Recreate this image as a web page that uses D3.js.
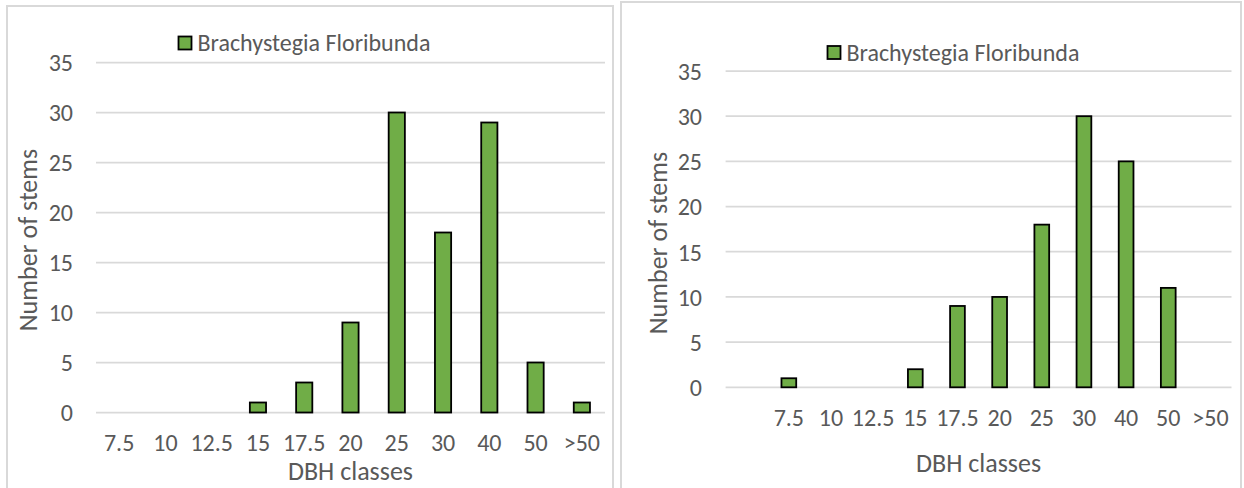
<!DOCTYPE html>
<html>
<head>
<meta charset="utf-8">
<script src="https://cdn.jsdelivr.net/npm/d3@7"></script>
<style>
  html, body { margin: 0; padding: 0; background: #fff; }
  svg { display: block; }
  text { font-family: Carlito, Lato, "Open Sans", sans-serif; fill: #595959; }
</style>
</head>
<body>
<svg id="chart" width="1244" height="488"></svg>
<script>
// DBH class labels for each panel (the second panel starts with an empty slot)
const classesA = ["7.5", "10", "12.5", "15", "17.5", "20", "25", "30", "40", "50", ">50"];
const stemsA   = [0, 0, 0, 1, 3, 9, 30, 18, 29, 5, 1];

const classesB = ["", "7.5", "10", "12.5", "15", "17.5", "20", "25", "30", "40", "50", ">50"];
const stemsB   = [0, 1, 0, 0, 2, 9, 10, 18, 30, 25, 11, 0];

const yTicks = [0, 5, 10, 15, 20, 25, 30, 35];
const seriesName = "Brachystegia Floribunda";
const xTitle = "DBH classes";
const yTitle = "Number of stems";

const svg = d3.select("#chart");
const barFill = "#70AD47";
const gridColor = "#d9d9d9";

function drawPanel(p, classes, stems) {
  const g = svg.append("g");

  // panel frame
  g.append("rect")
    .attr("x", p.frame[0]).attr("y", p.frame[1])
    .attr("width", p.frame[2] - p.frame[0]).attr("height", p.frame[3] - p.frame[1])
    .attr("fill", "#fff").attr("stroke", gridColor).attr("stroke-width", 2);

  const x = d3.scaleBand().domain(classes.map((c, i) => i))
    .range([p.left, p.right]).paddingInner(0).paddingOuter(0);
  const y = d3.scaleLinear().domain([0, 35]).range([p.bottom, p.top]);

  // horizontal gridlines
  g.append("g").selectAll("line").data(yTicks).join("line")
    .attr("x1", p.left).attr("x2", p.right)
    .attr("y1", d => y(d)).attr("y2", d => y(d))
    .attr("stroke", gridColor).attr("stroke-width", 1.75);

  // y axis labels
  const yAxis = d3.axisLeft(y).tickValues(yTicks).tickSize(0).tickPadding(0);
  const ya = g.append("g").attr("transform", `translate(${p.yLabelX},0)`).call(yAxis);
  ya.select(".domain").remove();
  ya.attr("font-size", null).attr("font-family", null);
  ya.selectAll("text").style("font-size", "24px").style("fill", "#595959")
    .attr("dy", "0.35em");

  // x axis labels
  const xAxis = d3.axisBottom(x).tickFormat(i => classes[i]).tickSize(0).tickPadding(0);
  const xa = g.append("g").attr("transform", `translate(0,${p.xLabelY})`).call(xAxis);
  xa.select(".domain").remove();
  xa.attr("font-size", null).attr("font-family", null);
  xa.selectAll("text").style("font-size", "24px").style("fill", "#595959")
    .attr("dy", "0.35em").attr("y", 0);

  // bars
  const bw = x.bandwidth() * 0.35;
  g.append("g").selectAll("rect").data(stems.map((v, i) => ({ v, i })).filter(d => d.v > 0))
    .join("rect")
    .attr("x", d => x(d.i) + (x.bandwidth() - bw) / 2)
    .attr("width", bw)
    .attr("y", d => y(d.v))
    .attr("height", d => y(0) - y(d.v))
    .attr("fill", barFill).attr("stroke", "#000").attr("stroke-width", 1.8);

  // axis titles
  g.append("text").attr("x", (p.left + p.right) / 2).attr("y", p.xTitleY)
    .attr("text-anchor", "middle").attr("dy", "0.35em").style("font-size", "26px").text(xTitle);
  g.append("text")
    .attr("transform", `translate(${p.yTitleX},${p.yTitleY}) rotate(-90)`)
    .attr("text-anchor", "middle").attr("dy", "0.35em").style("font-size", "26px").text(yTitle);

  // legend
  g.append("rect").attr("x", p.legend[0]).attr("y", p.legend[1]).attr("width", 13).attr("height", 13)
    .attr("fill", barFill).attr("stroke", "#000").attr("stroke-width", 1.8);
  g.append("text").attr("x", p.legend[0] + 19).attr("y", p.legend[1] + 6.5)
    .attr("dy", "0.35em").style("font-size", "24px").text(seriesName);
}

drawPanel({
  frame: [7, 6, 613, 500],
  left: 96, right: 605, top: 62.5, bottom: 412.5,
  yLabelX: 73, xLabelY: 443, xTitleY: 471,
  yTitleX: 28, yTitleY: 240, legend: [178.5, 36.5]
}, classesA, stemsA);

drawPanel({
  frame: [621, 2, 1241, 500],
  left: 725.6, right: 1231.5, top: 71, bottom: 387.3,
  yLabelX: 702, xLabelY: 418, xTitleY: 463,
  yTitleX: 658, yTitleY: 243, legend: [827.5, 46]
}, classesB, stemsB);
</script>
</body>
</html>
